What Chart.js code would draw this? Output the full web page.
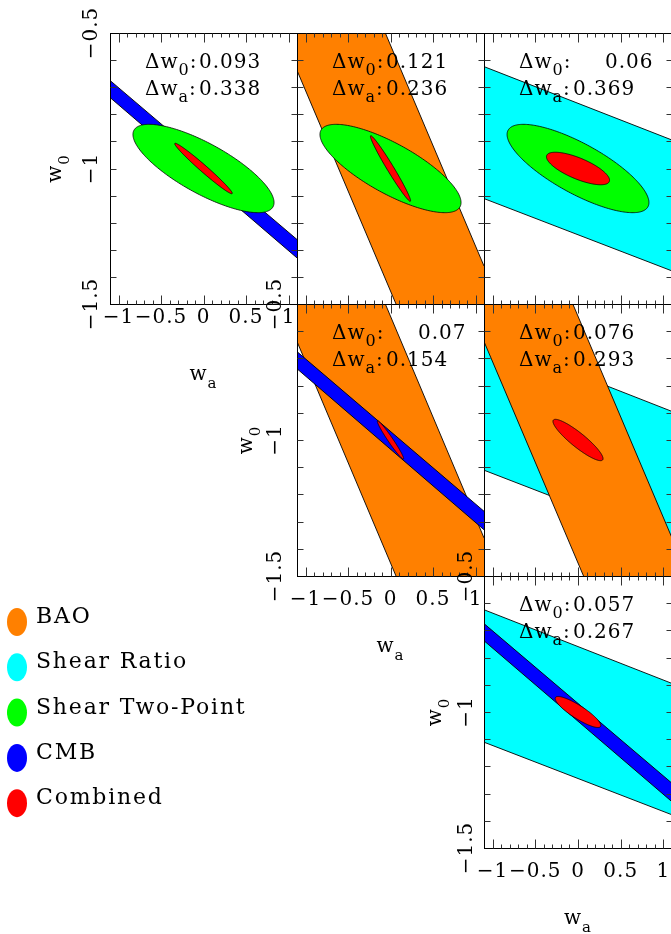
<!DOCTYPE html>
<html>
<head>
<meta charset="utf-8">
<script src="https://cdn.jsdelivr.net/npm/chart.js@4.4.1/dist/chart.umd.min.js"></script>
<style>
  html, body { margin: 0; padding: 0; background: #fff; }
  #figure { position: relative; width: 671px; height: 934px; overflow: hidden; background: #fff; }
  #figure canvas { position: absolute; left: 0; top: 0; }
</style>
</head>
<body>
<div id="figure"></div>
<script>
// ---- values ----
const PROBES = ['BAO', 'Shear Ratio', 'Shear Two-Point', 'CMB', 'Combined'];
const PROBE_COLORS = ['#ff8000', '#00ffff', '#00ff00', '#0000ff', '#ff0000'];

// band edges: w0 at wa = -1.1 and wa = 1.1
const WA_EDGES = [-1.1, 1.1];
const BAO_UPPER = [0.27, -1.36];
const BAO_LOWER = [-0.638, -2.266];
const SHEAR_RATIO_UPPER = [-0.624, -0.895];
const SHEAR_RATIO_LOWER = [-1.111, -1.378];
const CMB_UPPER = [-0.675, -1.262];
const CMB_LOWER = [-0.738, -1.330];

const FIDUCIAL = [0, -1];            // wa, w0
const TWO_POINT_ELLIPSE = [0.83, 0.163, -0.77]; // sigma wa, sigma w0, correlation

// panels row by row: bands drawn (bottom first), two-point ellipse, combined errors
const PANEL_BANDS = [['CMB'], ['BAO'], ['Shear Ratio'], ['BAO', 'CMB'], ['Shear Ratio', 'BAO'], ['Shear Ratio', 'CMB']];
const PANEL_TWO_POINT = [true, true, true, false, false, false];
const COMBINED_DW0 = ['0.093', '0.121', '0.06', '0.07', '0.076', '0.057'];
const COMBINED_DWA = ['0.338', '0.236', '0.369', '0.154', '0.293', '0.267'];
const COMBINED_RHO = [-0.983, -0.981, -0.72, -0.973, -0.9, -0.87];

const X_TICKS = [-1, -0.5, 0, 0.5, 1];
const X_TICK_LABELS = ['\u22121', '\u22120.5', '0', '0.5', '1'];
const Y_TICKS = [-1.5, -1, -0.5];
const Y_TICK_LABELS = ['\u22121.5', '\u22121', '\u22120.5'];

// ---- layout ----
const CW = 680, CH = 934;
const FONT = '"DejaVu Serif", serif';
const FRAMES = [
    { l: 110, t: 33, r: 297, b: 304, labels: true, xGap: 19, yGap: 13, titleGap: 49 },
    { l: 297, t: 33, r: 484, b: 304 },
    { l: 484, t: 33, r: 672, b: 304 },
    { l: 297, t: 304, r: 484, b: 576, labels: true, xGap: 29, yGap: 16, titleGap: 45 },
    { l: 484, t: 304, r: 672, b: 576 },
    { l: 484, t: 576, r: 672, b: 848, labels: true, xGap: 29, yGap: 12, titleGap: 43 }
];

const BANDS = {
    'BAO': [BAO_UPPER, BAO_LOWER],
    'Shear Ratio': [SHEAR_RATIO_UPPER, SHEAR_RATIO_LOWER],
    'CMB': [CMB_UPPER, CMB_LOWER]
};

function colorOf(name) {
    return PROBE_COLORS[PROBES.indexOf(name)];
}

function edge(vals) {
    return WA_EDGES.map((x, i) => ({ x: x, y: vals[i] }));
}

function bandDatasets(names) {
    const sets = [];
    names.forEach((name, k) => {
        const [up, low] = BANDS[name];
        const base = (names.length - k) * 2;
        // larger order is drawn first: lower edge + fill, then upper edge
        sets.push({ label: name, data: edge(up), borderColor: '#000', borderWidth: 0.9,
            backgroundColor: colorOf(name), fill: false, order: base - 1 });
        sets.push({ label: name, data: edge(low), borderColor: '#000', borderWidth: 0.9,
            backgroundColor: colorOf(name), fill: '-1', order: base });
    });
    return sets;
}

function traceEllipse(ctx, chart, sWa, sW0, rho) {
    const xs = chart.scales.x, ys = chart.scales.y;
    const cx = xs.getPixelForValue(FIDUCIAL[0]);
    const cy = ys.getPixelForValue(FIDUCIAL[1]);
    const ux = xs.getPixelForValue(FIDUCIAL[0] + sWa) - cx;
    const uy = ys.getPixelForValue(FIDUCIAL[1] + rho * sW0) - cy;
    const vy = ys.getPixelForValue(FIDUCIAL[1] + sW0 * Math.sqrt(1 - rho * rho)) - cy;
    ctx.beginPath();
    for (let i = 0; i <= 240; i++) {
        const a = i / 240 * 2 * Math.PI;
        const px = cx + ux * Math.cos(a);
        const py = cy + uy * Math.cos(a) + vy * Math.sin(a);
        if (i === 0) ctx.moveTo(px, py); else ctx.lineTo(px, py);
    }
    ctx.closePath();
}

function drawEllipse(ctx, chart, params, color) {
    traceEllipse(ctx, chart, params[0], params[1], params[2]);
    ctx.fillStyle = color;
    ctx.fill();
    ctx.lineWidth = 0.8;
    ctx.strokeStyle = '#000';
    ctx.stroke();
}

// text with subscripts: parts = [[text, size, dy], ...]
function partsWidth(ctx, parts) {
    let w = 0;
    parts.forEach(p => { ctx.font = p[1] + 'px ' + FONT; w += ctx.measureText(p[0]).width; });
    return w;
}

function drawParts(ctx, x, y, parts) {
    parts.forEach(p => {
        ctx.font = p[1] + 'px ' + FONT;
        ctx.fillText(p[0], x, y + p[2]);
        x += ctx.measureText(p[0]).width;
    });
    return x;
}

const ellipsePlugin = {
    id: 'ellipses',
    afterDatasetsDraw(chart, args, opts) {
        const ctx = chart.ctx, a = chart.chartArea;
        ctx.save();
        ctx.beginPath();
        ctx.rect(a.left, a.top, a.right - a.left, a.bottom - a.top);
        ctx.clip();
        if (PANEL_TWO_POINT[opts.panel]) drawEllipse(ctx, chart, TWO_POINT_ELLIPSE, colorOf('Shear Two-Point'));
        drawEllipse(ctx, chart, [Number(COMBINED_DWA[opts.panel]), Number(COMBINED_DW0[opts.panel]),
            COMBINED_RHO[opts.panel]], colorOf('Combined'));
        ctx.restore();
    }
};

const framePlugin = {
    id: 'frame',
    afterDraw(chart, args, opts) {
        const p = opts.panel, f = FRAMES[p];
        const ctx = chart.ctx, a = chart.chartArea;
        const xs = chart.scales.x, ys = chart.scales.y;
        const L = Math.floor(a.left) + 0.5, R = Math.floor(a.right) + 0.5;
        const T = Math.floor(a.top) + 0.5, B = Math.floor(a.bottom) + 0.5;
        ctx.save();
        ctx.strokeStyle = '#000';
        ctx.lineWidth = 1;
        ctx.strokeRect(L, T, R - L, B - T);

        // ticks, inward on all four sides
        ctx.strokeStyle = '#333';
        ctx.beginPath();
        for (let k = -10; k <= 10; k++) {
            const x = Math.round(xs.getPixelForValue(k / 10)) + 0.5;
            const len = k % 5 === 0 ? 9 : 4;
            ctx.moveTo(x, B); ctx.lineTo(x, B - len);
            ctx.moveTo(x, T); ctx.lineTo(x, T + len);
        }
        for (let k = -14; k <= -6; k++) {
            const y = Math.round(ys.getPixelForValue(k / 10)) + 0.5;
            ctx.moveTo(L, y); ctx.lineTo(L + 6, y);
            ctx.moveTo(R, y); ctx.lineTo(R - 6, y);
        }
        ctx.stroke();

        ctx.fillStyle = '#000';
        ctx.textBaseline = 'alphabetic';
        if ('letterSpacing' in ctx) ctx.letterSpacing = '1px';

        // error summary
        const x0 = a.left + 35;
        ctx.textAlign = 'left';
        drawParts(ctx, x0, a.top + 34.5, [['\u0394w', 20, 0], ['0', 16, 7], [':', 20, 0]]);
        drawParts(ctx, x0, a.top + 61.5, [['\u0394w', 20, 0], ['a', 16, 7], [':', 20, 0]]);
        const dw0 = COMBINED_DW0[p], dwa = COMBINED_DWA[p];
        drawParts(ctx, a.left + 89 + (5 - dw0.length) * 32, a.top + 34.5, [[dw0, 20, 0]]);
        drawParts(ctx, a.left + 89 + (5 - dwa.length) * 32, a.top + 61.5, [[dwa, 20, 0]]);

        if (f.labels) {
            ctx.font = '20px ' + FONT;
            ctx.textAlign = 'center';
            X_TICKS.forEach((v, i) => {
                ctx.fillText(X_TICK_LABELS[i], xs.getPixelForValue(v), a.bottom + f.xGap);
            });
            Y_TICKS.forEach((v, i) => {
                ctx.save();
                ctx.translate(a.left - f.yGap, ys.getPixelForValue(v));
                ctx.rotate(-Math.PI / 2);
                ctx.fillText(Y_TICK_LABELS[i], 0, 0);
                ctx.restore();
            });
            ctx.textAlign = 'left';
            const wa = [['w', 20, 0], ['a', 15, 8]];
            const wx = (a.left + a.right) / 2 - partsWidth(ctx, wa) / 2;
            drawParts(ctx, wx, a.bottom + 76, wa);
            const w0 = [['w', 20, 0], ['0', 15, 8]];
            ctx.save();
            ctx.translate(a.left - f.titleGap, (a.top + a.bottom) / 2 + partsWidth(ctx, w0) / 2);
            ctx.rotate(-Math.PI / 2);
            drawParts(ctx, 0, 0, w0);
            ctx.restore();
        }

        if (p === 0) {
            // legend
            ctx.textAlign = 'left';
            ctx.font = '22px ' + FONT;
            if ('letterSpacing' in ctx) ctx.letterSpacing = '1.8px';
            PROBES.forEach((name, i) => {
                const cy = 622 + i * 45.3;
                ctx.fillStyle = PROBE_COLORS[i];
                ctx.beginPath();
                ctx.ellipse(17, cy, 10, 14, 0, 0, 2 * Math.PI);
                ctx.fill();
                ctx.fillStyle = '#000';
                ctx.fillText(name, 36, cy + 1);
            });
        }
        ctx.restore();
    }
};

const figure = document.getElementById('figure');
FRAMES.forEach((f, p) => {
    const canvas = document.createElement('canvas');
    canvas.width = CW;
    canvas.height = CH;
    figure.appendChild(canvas);
    new Chart(canvas, {
        type: 'line',
        data: { datasets: bandDatasets(PANEL_BANDS[p]) },
        options: {
            responsive: false,
            animation: false,
            events: [],
            devicePixelRatio: 1,
            layout: { padding: { left: f.l, top: f.t, right: CW - f.r, bottom: CH - f.b } },
            elements: { point: { radius: 0 }, line: { tension: 0 } },
            scales: {
                x: { type: 'linear', min: -1.1, max: 1.1, display: false },
                y: { type: 'linear', min: -1.5, max: -0.5, display: false }
            },
            plugins: {
                legend: { display: false },
                tooltip: { enabled: false },
                ellipses: { panel: p },
                frame: { panel: p }
            }
        },
        plugins: [ellipsePlugin, framePlugin]
    });
});
</script>
</body>
</html>
